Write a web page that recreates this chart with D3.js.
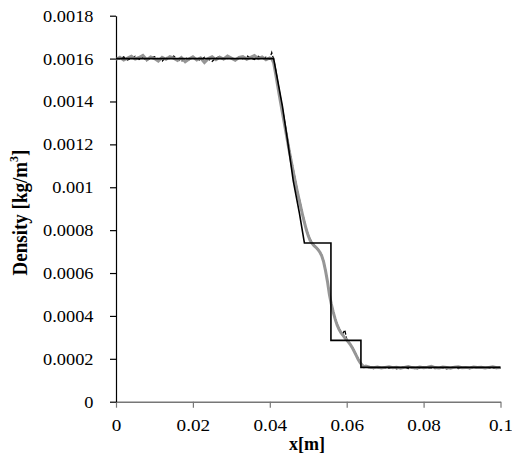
<!DOCTYPE html>
<html>
<head>
<meta charset="utf-8">
<script src="https://cdn.jsdelivr.net/npm/d3@7"></script>
<style>
    body { margin: 0; background: #fff; }
</style>
</head>
<body>
<div id="chart"></div>
<script>
// sample positions of the simulated profiles [m]
var sampleX = [
    0, 0.001, 0.002, 0.003, 0.004, 0.005, 0.006, 0.007, 0.008, 0.009,
    0.010, 0.011, 0.012, 0.013, 0.014, 0.015, 0.016, 0.017, 0.018, 0.019,
    0.020, 0.021, 0.022, 0.023, 0.024, 0.025, 0.026, 0.027, 0.028, 0.029,
    0.030, 0.031, 0.032, 0.033, 0.034, 0.035, 0.036, 0.037, 0.038, 0.039,
    0.040,
    0.0405, 0.041, 0.0415, 0.042, 0.0425, 0.043, 0.0435, 0.044, 0.0445, 0.045,
    0.0455, 0.046, 0.0465, 0.047, 0.0475, 0.048, 0.0485, 0.049, 0.0495, 0.050,
    0.0505, 0.051, 0.0515, 0.052, 0.0525, 0.053, 0.0535, 0.054, 0.0545, 0.055,
    0.0555, 0.056, 0.0565, 0.057, 0.0575, 0.058, 0.0585, 0.059, 0.0595, 0.060,
    0.0605, 0.061, 0.0615, 0.062, 0.0625, 0.063, 0.0635, 0.064, 0.0645,
    0.065, 0.066, 0.067, 0.068, 0.069, 0.070, 0.071, 0.072, 0.073, 0.074,
    0.075, 0.076, 0.077, 0.078, 0.079, 0.080, 0.081, 0.082, 0.083, 0.084,
    0.085, 0.086, 0.087, 0.088, 0.089, 0.090, 0.091, 0.092, 0.093, 0.094,
    0.095, 0.096, 0.097, 0.098, 0.099, 0.100
];

// grey (thick) simulated density [kg/m^3]
var greyDensity = [
    0.001596, 0.001606, 0.001593, 0.001602, 0.001611, 0.001598, 0.001605, 0.001615, 0.001595, 0.001608,
    0.001600, 0.001588, 0.001606, 0.001597, 0.001609, 0.001602, 0.001591, 0.001605, 0.001585, 0.001598,
    0.001608, 0.001594, 0.001603, 0.001582, 0.001600, 0.001609, 0.001595, 0.001606, 0.001598, 0.001612,
    0.001602, 0.001592, 0.001605, 0.001609, 0.001597, 0.001606, 0.001614, 0.001600, 0.001608, 0.001595,
    0.001603,
    0.001600, 0.001580, 0.001530, 0.001478, 0.001426, 0.001375, 0.001325, 0.001275, 0.001225, 0.001175,
    0.001128, 0.001082, 0.001037, 0.000993, 0.000952, 0.000912, 0.000873, 0.000836, 0.000802, 0.000774,
    0.000752, 0.000738, 0.000728, 0.000720, 0.000710, 0.000698, 0.000680, 0.000652, 0.000610, 0.000560,
    0.000500, 0.000455, 0.000418, 0.000385, 0.000358, 0.000338, 0.000322, 0.000310, 0.000298, 0.000288,
    0.000277, 0.000265, 0.000250, 0.000233, 0.000215, 0.000197, 0.000182, 0.000170, 0.000163,
    0.000166, 0.000161, 0.000158, 0.000162, 0.000157, 0.000160, 0.000163, 0.000158, 0.000161, 0.000156,
    0.000160, 0.000164, 0.000159, 0.000157, 0.000162, 0.000158, 0.000161, 0.000165, 0.000159, 0.000157,
    0.000162, 0.000160, 0.000156, 0.000161, 0.000163, 0.000158, 0.000160, 0.000157, 0.000162, 0.000159,
    0.000161, 0.000157, 0.000160, 0.000163, 0.000158, 0.000160
];

// black (dashed) simulated density [kg/m^3]
var blackDensity = [
    0.001603, 0.001597, 0.001608, 0.001594, 0.001602, 0.001611, 0.001596, 0.001605, 0.001590, 0.001603,
    0.001609, 0.001598, 0.001588, 0.001606, 0.001600, 0.001612, 0.001597, 0.001586, 0.001604, 0.001595,
    0.001608, 0.001600, 0.001591, 0.001606, 0.001598, 0.001587, 0.001603, 0.001610, 0.001596, 0.001601,
    0.001606, 0.001592, 0.001608, 0.001599, 0.001613, 0.001603, 0.001596, 0.001611, 0.001601, 0.001606,
    0.001598,
    0.001628, 0.001596, 0.001548, 0.001494, 0.001442, 0.001390, 0.001340, 0.001290, 0.001238, 0.001188,
    0.001140, 0.001093, 0.001046, 0.001002, 0.000960, 0.000920, 0.000880, 0.000842, 0.000808, 0.000780,
    0.000758, 0.000742, 0.000732, 0.000722, 0.000712, 0.000700, 0.000684, 0.000656, 0.000615, 0.000566,
    0.000505, 0.000460, 0.000422, 0.000390, 0.000362, 0.000342, 0.000326, 0.000318, 0.000335, 0.000292,
    0.000280, 0.000268, 0.000254, 0.000237, 0.000219, 0.000200, 0.000185, 0.000172, 0.000165,
    0.000163, 0.000158, 0.000155, 0.000160, 0.000154, 0.000159, 0.000156, 0.000161, 0.000153, 0.000158,
    0.000162, 0.000155, 0.000159, 0.000152, 0.000157, 0.000161, 0.000156, 0.000159, 0.000154, 0.000160,
    0.000157, 0.000153, 0.000158, 0.000162, 0.000155, 0.000159, 0.000156, 0.000154, 0.000160, 0.000157,
    0.000155, 0.000159, 0.000156, 0.000158, 0.000154, 0.000157
];

// exact (analytical) solution
var exactX = [0, 0.041, 0.0433, 0.0446, 0.0461, 0.0477, 0.049, 0.0559, 0.0559, 0.0637, 0.0637, 0.1];
var exactDensity = [0.0016, 0.0016, 0.001376, 0.00122, 0.00103, 0.000879, 0.00074, 0.00074, 0.000286, 0.000286, 0.00016, 0.00016];

var xTicks = [0, 0.02, 0.04, 0.06, 0.08, 0.1];
var yTicks = [0, 0.0002, 0.0004, 0.0006, 0.0008, 0.001, 0.0012, 0.0014, 0.0016, 0.0018];

var width = 512, height = 468;
var margin = { left: 116, right: 11.5, top: 15.7, bottom: 66.3 };
var serif = "'Liberation Serif', 'Times New Roman', serif";

var svg = d3.select("#chart").append("svg")
    .attr("width", width)
    .attr("height", height);

var x = d3.scaleLinear().domain([0, 0.1]).range([margin.left, width - margin.right]);
var y = d3.scaleLinear().domain([0, 0.0018]).range([height - margin.bottom, margin.top]);

var fmt = function(d) { return String(+d.toPrecision(6)); };

// x axis
var xAxis = svg.append("g")
    .attr("transform", "translate(0," + y(0) + ")")
    .call(d3.axisBottom(x).tickValues(xTicks).tickFormat(fmt).tickSize(6).tickSizeOuter(0));
xAxis.select(".domain").attr("stroke", "#777").attr("stroke-width", 1.5);
xAxis.selectAll(".tick line").attr("stroke", "#777").attr("stroke-width", 1.2);
xAxis.selectAll(".tick text")
    .style("font-family", serif)
    .style("font-size", "17px")
    .attr("fill", "#000")
    .attr("y", 0)
    .attr("dy", null)
    .attr("transform", "translate(0,29) scale(1.13,1)");

// y axis
var yAxis = svg.append("g")
    .attr("transform", "translate(" + x(0) + ",0)")
    .call(d3.axisLeft(y).tickValues(yTicks).tickFormat(fmt).tickSize(6).tickSizeOuter(0));
yAxis.select(".domain").attr("stroke", "#000").attr("stroke-width", 1.2);
yAxis.selectAll(".tick line").attr("stroke", "#000").attr("stroke-width", 1.2);
yAxis.selectAll(".tick text")
    .style("font-family", serif)
    .style("font-size", "17px")
    .attr("fill", "#000")
    .attr("x", 0)
    .attr("transform", "translate(-22.5,0) scale(1.08,1)");

// axis titles
svg.append("text")
    .attr("x", 307)
    .attr("y", 450)
    .attr("text-anchor", "middle")
    .style("font-family", serif)
    .style("font-size", "18px")
    .style("font-weight", "bold")
    .text("x[m]");

var yTitle = svg.append("text")
    .attr("transform", "translate(27,212.5) scale(1.1,1) rotate(-90)")
    .attr("text-anchor", "middle")
    .style("font-family", serif)
    .style("font-size", "19px")
    .style("font-weight", "bold");
yTitle.append("tspan").text("Density [kg/m");
yTitle.append("tspan").style("font-size", "12px").attr("dy", -8).text("3");
yTitle.append("tspan").attr("dy", 8).text("]");

// lines
var simLine = d3.line()
    .x(function(d, i) { return x(sampleX[i]); })
    .y(function(d) { return y(d); });

var exactLine = d3.line()
    .x(function(d, i) { return x(exactX[i]); })
    .y(function(d) { return y(d); });

svg.append("path")
    .datum(blackDensity)
    .attr("d", simLine)
    .attr("fill", "none")
    .attr("stroke", "#000")
    .attr("stroke-width", 1.3)
    .attr("stroke-dasharray", "4,2");

svg.append("path")
    .datum(greyDensity)
    .attr("d", simLine)
    .attr("fill", "none")
    .attr("stroke", "#969696")
    .attr("stroke-width", 3)
    .attr("stroke-linejoin", "miter");

svg.append("path")
    .datum(exactDensity)
    .attr("d", exactLine)
    .attr("fill", "none")
    .attr("stroke", "#000")
    .attr("stroke-width", 1.6);
</script>
</body>
</html>
